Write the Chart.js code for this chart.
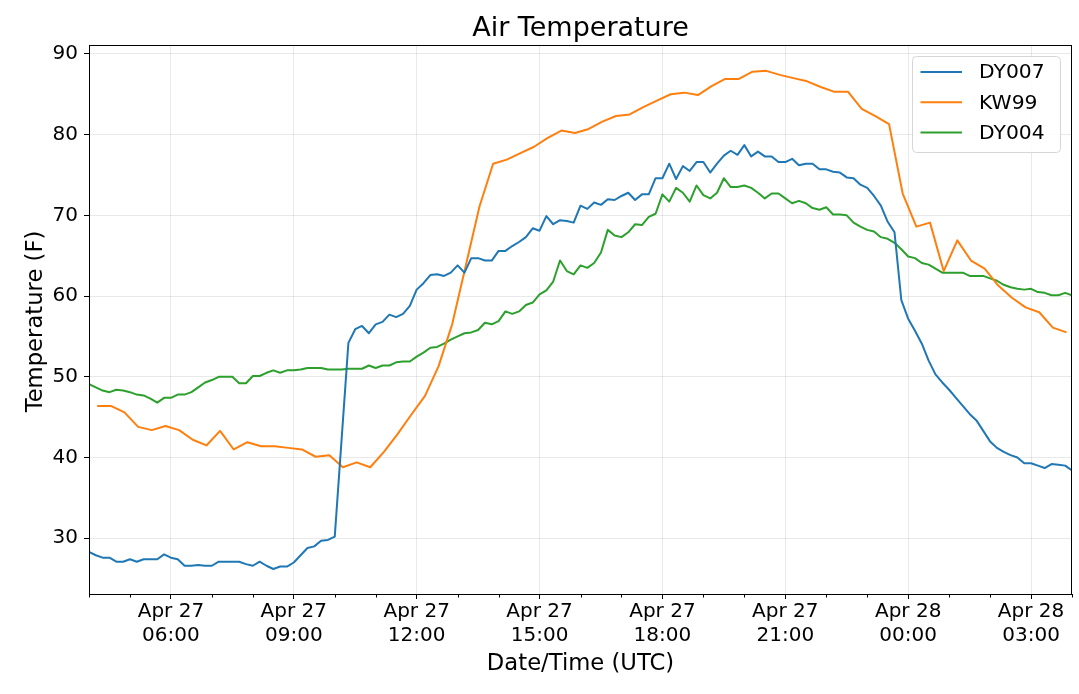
<!DOCTYPE html>
<html>
<head>
<meta charset="utf-8">
<script src="https://cdn.jsdelivr.net/npm/chart.js@4.4.1/dist/chart.umd.min.js"></script>
<style>
html,body{margin:0;padding:0;background:#fff;}
canvas{display:block;}
</style>
</head>
<body>
<canvas id="c" width="1079" height="694"></canvas>
<script>
const FONT = '"DejaVu Sans", sans-serif';
const chartTitle = 'Air Temperature';
const xAxisTitle = 'Date/Time (UTC)';
const yAxisTitle = 'Temperature (F)';
const seriesNames = ['DY007', 'KW99', 'DY004'];
const seriesColors = ['#1f77b4', '#ff7f0e', '#2ca02c'];

// Times are hours since Apr 27 00:00 UTC.
// DY stations: 10-minute observations from Apr 27 04:00 UTC
const dyStartHour = 4;
const dyStepMinutes = 10;
// KW99: 20-minute observations from Apr 27 04:12 UTC
const kwStartHour = 4.2;
const kwStepMinutes = 20;

const dy007 = [
  28.3, 27.9, 27.6, 27.6, 27.1, 27.1, 27.4, 27.1, 27.4, 27.4,
  27.4, 28.0, 27.6, 27.4, 26.6, 26.6, 26.7, 26.6, 26.6, 27.1,
  27.1, 27.1, 27.1, 26.8, 26.6, 27.1, 26.6, 26.2, 26.5, 26.5,
  27.0, 27.9, 28.8, 29.0, 29.7, 29.8, 30.2, null, 54.2, 55.9,
  56.3, 55.4, 56.5, 56.8, 57.7, 57.4, 57.8, 58.8, 60.8, 61.6,
  62.6, 62.7, 62.5, 62.9, 63.8, 62.9, 64.7, 64.7, 64.4, 64.4,
  65.6, 65.6, 66.2, 66.7, 67.3, 68.4, 68.1, 69.9, 68.9, 69.4,
  69.3, 69.1, 71.2, 70.8, 71.6, 71.3, 72.0, 71.9, 72.4, 72.8,
  71.9, 72.6, 72.6, 74.6, 74.6, 76.4, 74.5, 76.1, 75.5, 76.6,
  76.6, 75.3, 76.4, 77.4, 78.0, 77.5, 78.7, 77.3, 77.9, 77.3,
  77.3, 76.6, 76.6, 77.0, 76.2, 76.4, 76.4, 75.7, 75.7, 75.4,
  75.3, 74.7, 74.6, 73.8, 73.4, 72.4, 71.2, 69.2, 67.9, 59.5,
  57.2, 55.7, 54.1, 52.0, 50.3, 49.3, 48.4, 47.4, 46.4, 45.4,
  44.6, 43.3, 42.0, 41.2, 40.7, 40.3, 40.0, 39.3, 39.3, 39.0,
  38.7, 39.2, 39.1, 39.0, 38.4
];

const kw99 = [
  46.4, 46.4, 45.6, 43.8, 43.4, 43.9, 43.4, 42.2, 41.5, 43.3,
  41.0, 41.9, 41.4, 41.4, 41.2, 41.0, 40.1, 40.3, 38.8, 39.4,
  38.8, 40.7, 42.9, 45.3, 47.6, 51.3, 56.5, 63.8, 71.1, 76.4,
  76.9, 77.7, 78.5, 79.6, 80.5, 80.2, 80.7, 81.6, 82.3, 82.5,
  83.4, 84.2, 85.0, 85.2, 84.9, 86.0, 86.9, 86.9, 87.8, 87.9,
  87.4, 87.0, 86.6, 85.9, 85.3, 85.3, 83.2, 82.3, 81.3, 72.7,
  68.6, 69.1, 63.1, 66.9, 64.4, 63.4, 61.3, 59.8, 58.6, 58.0,
  56.1, 55.5
];

const dy004 = [
  49.1, 48.7, 48.3, 48.1, 48.4, 48.3, 48.1, 47.8, 47.7, 47.3,
  46.8, 47.4, 47.4, 47.8, 47.8, 48.1, 48.7, 49.3, 49.6, 50.0,
  50.0, 50.0, 49.2, 49.2, 50.1, 50.1, 50.5, 50.8, 50.5, 50.8,
  50.8, 50.9, 51.1, 51.1, 51.1, 50.9, 50.9, 50.9, 51.0, 51.0,
  51.0, 51.4, 51.1, 51.4, 51.4, 51.8, 51.9, 51.9, 52.5, 53.0,
  53.6, 53.7, 54.1, 54.6, 55.0, 55.4, 55.5, 55.8, 56.7, 56.5,
  56.9, 58.1, 57.8, 58.1, 58.9, 59.2, 60.2, 60.7, 61.8, 64.4,
  63.1, 62.7, 63.8, 63.5, 64.1, 65.4, 68.2, 67.5, 67.3, 67.9,
  68.9, 68.8, 69.8, 70.2, 72.6, 71.7, 73.4, 72.8, 71.7, 73.7,
  72.5, 72.1, 72.8, 74.6, 73.5, 73.5, 73.7, 73.4, 72.8, 72.1,
  72.7, 72.7, 72.1, 71.5, 71.8, 71.5, 70.9, 70.7, 71.0, 70.1,
  70.1, 70.0, 69.1, 68.6, 68.2, 68.0, 67.3, 67.1, 66.6, 65.8,
  64.9, 64.7, 64.1, 63.9, 63.4, 62.9, 62.9, 62.9, 62.9, 62.5,
  62.5, 62.5, 62.2, 61.9, 61.4, 61.1, 60.9, 60.8, 60.9, 60.5,
  60.4, 60.1, 60.1, 60.4, 60.1
];

const xTickHours = [6, 9, 12, 15, 18, 21, 24, 27];
const yTickValues = [30, 40, 50, 60, 70, 80, 90];
const xRange = [4, 28];
const yRange = [23.1, 91.1];

function toPoints(values, startHour, stepMinutes) {
  return values.map((v, i) => ({ x: startHour + i * stepMinutes / 60, y: v }));
}
function fmtTick(h) {
  const day = 27 + Math.floor(h / 24);
  const hh = Math.round(h % 24);
  return ['Apr ' + day, String(hh).padStart(2, '0') + ':00'];
}

const seriesValues = [dy007, kw99, dy004];
const seriesStart = [dyStartHour, kwStartHour, dyStartHour];
const seriesStep = [dyStepMinutes, kwStepMinutes, dyStepMinutes];

const datasets = seriesNames.map((name, i) => ({
  label: name,
  data: toPoints(seriesValues[i], seriesStart[i], seriesStep[i]),
  borderColor: seriesColors[i],
  backgroundColor: seriesColors[i],
  borderWidth: 2,
  pointRadius: 0,
  tension: 0,
  spanGaps: true,
  borderJoinStyle: 'round',
  fill: false
}));

const decorPlugin = {
  id: 'decor',
  afterDraw(chart) {
    const ctx = chart.ctx;
    const ca = chart.chartArea;
    const xs = chart.scales.x;
    ctx.save();
    // frame (all four spines)
    ctx.strokeStyle = '#000';
    ctx.lineWidth = 1;
    ctx.strokeRect(Math.round(ca.left) + 0.5, Math.round(ca.top) + 0.5,
                   Math.round(ca.right - ca.left) - 1, Math.round(ca.bottom - ca.top));
    // minor hourly ticks on x axis
    ctx.beginPath();
    for (let h = Math.ceil(xRange[0]); h <= xRange[1]; h++) {
      if (xTickHours.includes(h)) continue;
      const px = Math.round(xs.getPixelForValue(h)) + 0.5;
      ctx.moveTo(px, ca.bottom);
      ctx.lineTo(px, ca.bottom + 3.5);
    }
    ctx.stroke();
    // title
    ctx.fillStyle = '#000';
    ctx.textAlign = 'center';
    ctx.textBaseline = 'alphabetic';
    ctx.font = '27px ' + FONT;
    const cx = (ca.left + ca.right) / 2;
    ctx.fillText(chartTitle, cx, 36);
    // axis titles
    ctx.font = '22.7px ' + FONT;
    ctx.fillText(xAxisTitle, cx, 670);
    ctx.save();
    ctx.translate(41.5, (ca.top + ca.bottom) / 2 + 2);
    ctx.rotate(-Math.PI / 2);
    ctx.fillText(yAxisTitle, 0, 0);
    ctx.restore();
    // legend
    const lx = ca.right - 159.5, ly = ca.top + 11.5, lw = 148, lh = 96;
    ctx.beginPath();
    if (ctx.roundRect) ctx.roundRect(lx, ly, lw, lh, 4); else ctx.rect(lx, ly, lw, lh);
    ctx.fillStyle = 'rgba(255,255,255,0.85)';
    ctx.fill();
    ctx.strokeStyle = '#d6d6d6';
    ctx.lineWidth = 1;
    ctx.stroke();
    ctx.font = '20.3px ' + FONT;
    ctx.textAlign = 'left';
    ctx.textBaseline = 'middle';
    chart.data.datasets.forEach((ds, i) => {
      const yy = ly + 15.5 + i * 30.3;
      ctx.strokeStyle = ds.borderColor;
      ctx.lineWidth = 2;
      ctx.beginPath();
      ctx.moveTo(lx + 8, yy);
      ctx.lineTo(lx + 49.5, yy);
      ctx.stroke();
      ctx.fillStyle = '#000';
      ctx.fillText(ds.label, lx + 66.5, yy + 1);
    });
    ctx.restore();
  }
};

const gridColor = 'rgba(0,0,0,0.085)';

new Chart(document.getElementById('c').getContext('2d'), {
  type: 'line',
  data: { datasets },
  options: {
    responsive: false,
    animation: false,
    events: [],
    layout: { padding: { top: 45, right: 7, left: 0, bottom: 0 } },
    plugins: {
      legend: { display: false },
      title: { display: false },
      tooltip: { enabled: false }
    },
    scales: {
      x: {
        type: 'linear',
        min: xRange[0],
        max: xRange[1],
        afterBuildTicks: s => { s.ticks = xTickHours.map(v => ({ value: v })); },
        afterFit: s => { s.height = 100; },
        ticks: {
          callback: v => fmtTick(v),
          color: '#000',
          font: { family: FONT, size: 20, lineHeight: 1.23 },
          padding: 0,
          maxRotation: 0,
          autoSkip: false
        },
        grid: { color: gridColor, lineWidth: 1, tickColor: '#000', tickLength: 5 },
        border: { display: false }
      },
      y: {
        type: 'linear',
        min: yRange[0],
        max: yRange[1],
        afterBuildTicks: s => { s.ticks = yTickValues.map(v => ({ value: v })); },
        afterFit: s => { s.width = 89; },
        ticks: {
          color: '#000',
          font: { family: FONT, size: 20 },
          padding: 6
        },
        grid: { color: gridColor, lineWidth: 1, tickColor: '#000', tickLength: 5 },
        border: { display: false }
      }
    }
  },
  plugins: [decorPlugin]
});
</script>
</body>
</html>
